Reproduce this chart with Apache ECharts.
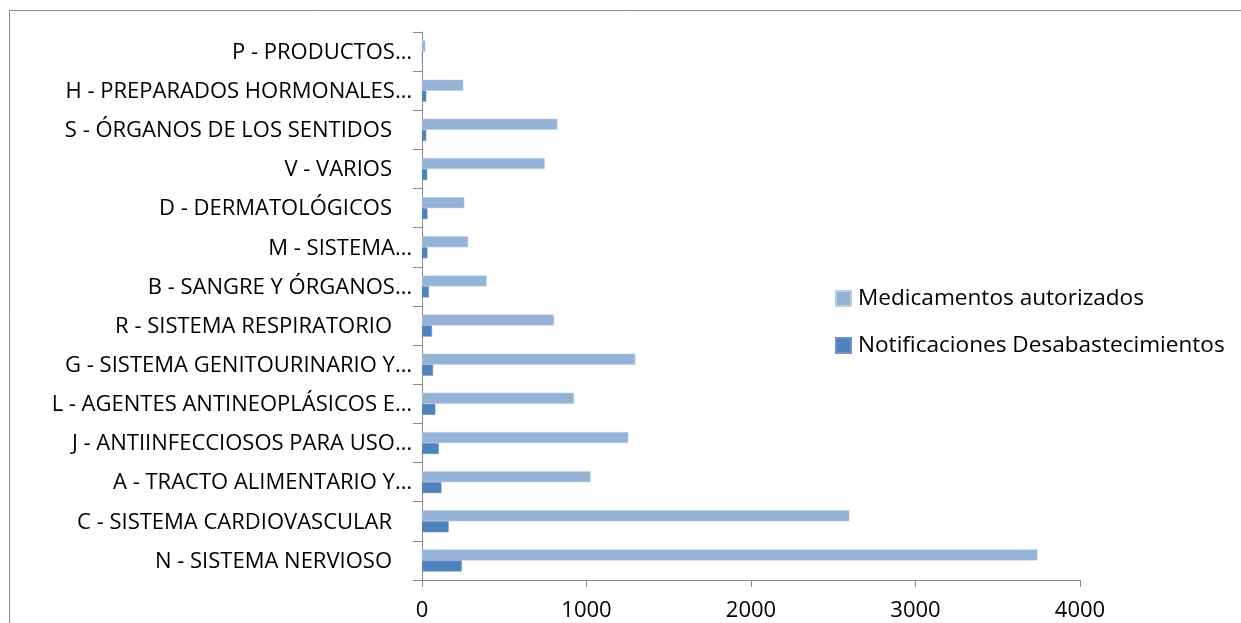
<!DOCTYPE html>
<html>
<head>
<meta charset="utf-8">
<script src="https://cdn.jsdelivr.net/npm/echarts@6/dist/echarts.min.js"></script>
<style>
  html, body { margin: 0; padding: 0; background: #fff; }
  #chart { width: 1241px; height: 623px; }
</style>
</head>
<body>
<div id="chart"></div>
<script>
// ATC groups, bottom to top
const categories = [
  'N - SISTEMA NERVIOSO ',
  'C - SISTEMA CARDIOVASCULAR ',
  'A - TRACTO ALIMENTARIO Y…',
  'J - ANTIINFECCIOSOS PARA USO…',
  'L - AGENTES ANTINEOPLÁSICOS E…',
  'G - SISTEMA GENITOURINARIO Y…',
  'R - SISTEMA RESPIRATORIO ',
  'B - SANGRE Y ÓRGANOS…',
  'M - SISTEMA…',
  'D - DERMATOLÓGICOS ',
  'V - VARIOS ',
  'S - ÓRGANOS DE LOS SENTIDOS ',
  'H - PREPARADOS HORMONALES…',
  'P - PRODUCTOS…'
];
const medicamentosAutorizados = [3741, 2598, 1025, 1254, 924, 1297, 802, 393, 280, 257, 746, 823, 251, 20];
const notificacionesDesabastecimientos = [242, 162, 118, 102, 81, 67, 61, 42, 33, 33, 32, 26, 26, 3];
const xTicks = [0, 1000, 2000, 3000, 4000];

const FONT = '"Open Sans", sans-serif';
const FS = 22;
const chart = echarts.init(document.getElementById('chart'), null, { renderer: 'canvas' });

chart.setOption({
  animation: false,
  backgroundColor: '#ffffff',
  textStyle: { fontFamily: FONT },
  graphic: [{
    type: 'rect',
    shape: { x: 9.5, y: 10.5, width: 1300, height: 700 },
    style: { fill: 'none', stroke: '#8c8c8c', lineWidth: 1 },
    silent: true
  }],
  legend: {
    orient: 'vertical',
    left: 830,
    top: 282,
    itemWidth: 15,
    itemHeight: 15,
    itemGap: 24,
    icon: 'rect',
    data: ['Medicamentos autorizados', 'Notificaciones Desabastecimientos'],
    textStyle: { fontFamily: FONT, fontSize: 22.6, color: '#000', padding: [0, 0, 0, 2] }
  },
  grid: { left: 422, top: 32, right: 161, bottom: 43, containLabel: false },
  xAxis: {
    type: 'value',
    min: xTicks[0],
    max: xTicks[xTicks.length - 1],
    interval: 1000,
    axisLine: { show: true, lineStyle: { color: '#8a8a8a', width: 1 } },
    axisTick: { show: true, length: 7, lineStyle: { color: '#8a8a8a' } },
    splitLine: { show: false },
    axisLabel: { fontFamily: FONT, fontSize: FS, color: '#000', margin: 20, formatter: v => String(v) }
  },
  yAxis: {
    type: 'category',
    data: categories,
    axisLine: { show: true, lineStyle: { color: '#8a8a8a', width: 1 } },
    axisTick: { show: true, length: 9, lineStyle: { color: '#8a8a8a' } },
    axisLabel: {
      fontFamily: FONT, fontSize: FS, color: '#000', margin: 10,
      // full names keep their trailing space as extra right padding
      formatter: v => v.endsWith(' ') ? '{full|' + v.trim() + '}' : '{cut|' + v + '}',
      rich: {
        full: { fontFamily: FONT, fontSize: FS, color: '#000', padding: [2, 20, 0, 0] },
        cut: { fontFamily: FONT, fontSize: FS, color: '#000', padding: [2, 0, 0, 0] }
      }
    }
  },
  series: [
    {
      name: 'Medicamentos autorizados',
      type: 'bar',
      data: medicamentosAutorizados,
      barWidth: 11,
      barGap: '0%',
      itemStyle: { color: '#95b3d7', borderColor: '#b8cde6', borderWidth: 0.5 }
    },
    {
      name: 'Notificaciones Desabastecimientos',
      type: 'bar',
      data: notificacionesDesabastecimientos,
      barWidth: 11,
      barGap: '0%',
      itemStyle: { color: '#4f81bd', borderColor: '#6b95c8', borderWidth: 0.5 }
    }
  ]
});
</script>
</body>
</html>
